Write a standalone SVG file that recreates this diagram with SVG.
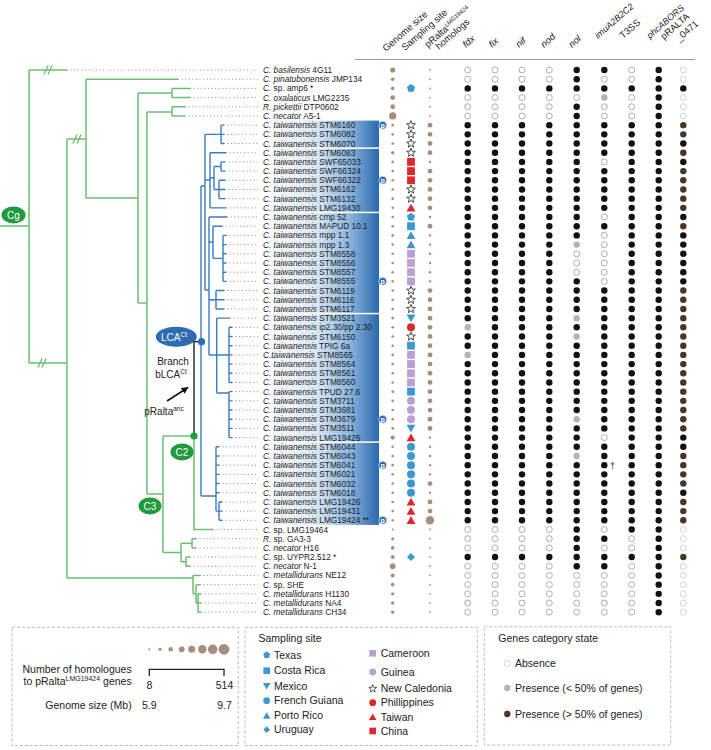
<svg xmlns="http://www.w3.org/2000/svg" xmlns:xlink="http://www.w3.org/1999/xlink" width="711" height="750" viewBox="0 0 711 750">
<style>
text{font-family:"Liberation Sans",Arial,sans-serif;fill:#222}
.tx{font-size:8.3px}
.it{font-style:italic}
.hd{font-size:9.5px}
.lg{font-size:10.5px}
.gs{fill:#a58e7e}
.o{fill:#fff;stroke:#9a9a9a;stroke-width:.8}
.ol{fill:#fff;stroke:#c6c6c6;stroke-width:.8}
.g{fill:#b4b4b4}
.b{fill:#111}
.n{fill:#4a3424}
.gr{fill:none;stroke:#6cc070;stroke-width:1.5}
.bl{fill:none;stroke:#3a7cc0;stroke-width:1.4}
.dl{stroke:#7a7a7a;stroke-width:.9;stroke-dasharray:1 2.6}
.box{fill:none;stroke:#bdbdbd;stroke-width:1;stroke-dasharray:3 2}
.sB{fill:#3d98d0}.sP{fill:#b9a0d4}.sR{fill:#df2628}
.st{fill:#fff;stroke:#222;stroke-width:.8}
</style>
<defs>
<linearGradient id="bg" x1="0" x2="1" y1="0" y2="0">
<stop offset="0" stop-color="#ffffff"/><stop offset="0.45" stop-color="#dce8f5"/><stop offset="0.75" stop-color="#8ab4de"/><stop offset="1" stop-color="#2a68ad"/>
</linearGradient>
<marker id="ar" viewBox="0 0 10 10" refX="9" refY="5" markerWidth="7" markerHeight="7" orient="auto" markerUnits="userSpaceOnUse"><path d="M0,0 L10,5 L0,10 z" fill="#111"/></marker>
<polygon id="pent" class="sB" points="0,-4.3 4.09,-1.33 2.53,3.48 -2.53,3.48 -4.09,-1.33"/>
<rect id="sqB" class="sB" x="-3.9" y="-3.9" width="7.8" height="7.8"/>
<rect id="sqP" class="sP" x="-3.9" y="-3.9" width="7.8" height="7.8"/>
<rect id="sqR" class="sR" x="-3.9" y="-3.9" width="7.8" height="7.8"/>
<polygon id="triB" class="sB" points="0,-4.2 4.4,3.6 -4.4,3.6"/>
<polygon id="triR" class="sR" points="0,-4.2 4.4,3.6 -4.4,3.6"/>
<polygon id="itri" class="sB" points="-4.4,-3.6 4.4,-3.6 0,4.2"/>
<circle id="cirB" class="sB" r="4"/>
<circle id="cirP" class="sP" r="4"/>
<circle id="cirR" class="sR" r="4"/>
<polygon id="dia" class="sB" points="0,-4 4,0 0,4 -4,0"/>
<polygon id="star" class="st" points="0,-4.6 1.12,-1.54 4.37,-1.42 1.81,0.59 2.7,3.72 0,1.9 -2.7,3.72 -1.81,0.59 -4.37,-1.42 -1.12,-1.54"/>
<g id="pp"><circle r="4" fill="#2a6db3" stroke="#fff" stroke-width=".6"/><text x="0" y="2.4" text-anchor="middle" style="font-size:7px;fill:#fff;font-weight:bold">p</text></g>
<g id="P1"><circle class="o" cx="467.7" r="3"/><circle class="o" cx="495" r="3"/><circle class="o" cx="522" r="3"/><circle class="o" cx="549.3" r="3"/><circle class="b" cx="576.7" r="3.2"/><circle class="b" cx="604.3" r="3.2"/><circle class="o" cx="631.7" r="3"/><circle class="b" cx="658.7" r="3.2"/><circle class="ol" cx="683.3" r="3"/></g>
<g id="P2"><circle class="o" cx="467.7" r="3"/><circle class="o" cx="495" r="3"/><circle class="o" cx="522" r="3"/><circle class="o" cx="549.3" r="3"/><circle class="b" cx="576.7" r="3.2"/><circle class="o" cx="604.3" r="3"/><circle class="o" cx="631.7" r="3"/><circle class="b" cx="658.7" r="3.2"/><circle class="ol" cx="683.3" r="3"/></g>
<g id="P3"><circle class="b" cx="467.7" r="3.2"/><circle class="b" cx="495" r="3.2"/><circle class="b" cx="522" r="3.2"/><circle class="b" cx="549.3" r="3.2"/><circle class="b" cx="576.7" r="3.2"/><circle class="b" cx="604.3" r="3.2"/><circle class="b" cx="631.7" r="3.2"/><circle class="b" cx="658.7" r="3.2"/><circle class="b" cx="683.3" r="3.2"/></g>
<g id="P4"><circle class="o" cx="467.7" r="3"/><circle class="o" cx="495" r="3"/><circle class="o" cx="522" r="3"/><circle class="o" cx="549.3" r="3"/><circle class="o" cx="576.7" r="3"/><circle class="g" cx="604.3" r="3.2"/><circle class="o" cx="631.7" r="3"/><circle class="b" cx="658.7" r="3.2"/><circle class="ol" cx="683.3" r="3"/></g>
<g id="P5"><circle class="b" cx="467.7" r="3.2"/><circle class="b" cx="495" r="3.2"/><circle class="b" cx="522" r="3.2"/><circle class="b" cx="549.3" r="3.2"/><circle class="b" cx="576.7" r="3.2"/><circle class="b" cx="604.3" r="3.2"/><circle class="b" cx="631.7" r="3.2"/><circle class="b" cx="658.7" r="3.2"/><circle class="n" cx="683.3" r="3.2"/></g>
<g id="P6"><circle class="b" cx="467.7" r="3.2"/><circle class="b" cx="495" r="3.2"/><circle class="b" cx="522" r="3.2"/><circle class="b" cx="549.3" r="3.2"/><circle class="b" cx="576.7" r="3.2"/><circle class="o" cx="604.3" r="3"/><circle class="b" cx="631.7" r="3.2"/><circle class="b" cx="658.7" r="3.2"/><circle class="b" cx="683.3" r="3.2"/></g>
<g id="P7"><circle class="b" cx="467.7" r="3.2"/><circle class="b" cx="495" r="3.2"/><circle class="b" cx="522" r="3.2"/><circle class="b" cx="549.3" r="3.2"/><circle class="g" cx="576.7" r="3.2"/><circle class="o" cx="604.3" r="3"/><circle class="b" cx="631.7" r="3.2"/><circle class="b" cx="658.7" r="3.2"/><circle class="b" cx="683.3" r="3.2"/></g>
<g id="P8"><circle class="b" cx="467.7" r="3.2"/><circle class="b" cx="495" r="3.2"/><circle class="b" cx="522" r="3.2"/><circle class="b" cx="549.3" r="3.2"/><circle class="o" cx="576.7" r="3"/><circle class="o" cx="604.3" r="3"/><circle class="b" cx="631.7" r="3.2"/><circle class="b" cx="658.7" r="3.2"/><circle class="b" cx="683.3" r="3.2"/></g>
<g id="P9"><circle class="b" cx="467.7" r="3.2"/><circle class="b" cx="495" r="3.2"/><circle class="b" cx="522" r="3.2"/><circle class="b" cx="549.3" r="3.2"/><circle class="g" cx="576.7" r="3.2"/><circle class="b" cx="604.3" r="3.2"/><circle class="b" cx="631.7" r="3.2"/><circle class="b" cx="658.7" r="3.2"/><circle class="n" cx="683.3" r="3.2"/></g>
<g id="P10"><circle class="g" cx="467.7" r="3.2"/><circle class="b" cx="495" r="3.2"/><circle class="b" cx="522" r="3.2"/><circle class="b" cx="549.3" r="3.2"/><circle class="b" cx="576.7" r="3.2"/><circle class="b" cx="604.3" r="3.2"/><circle class="b" cx="631.7" r="3.2"/><circle class="b" cx="658.7" r="3.2"/><circle class="n" cx="683.3" r="3.2"/></g>
<g id="P11"><circle class="o" cx="467.7" r="3"/><circle class="o" cx="495" r="3"/><circle class="o" cx="522" r="3"/><circle class="o" cx="549.3" r="3"/><circle class="b" cx="576.7" r="3.2"/><circle class="o" cx="604.3" r="3"/><circle class="b" cx="631.7" r="3.2"/><circle class="b" cx="658.7" r="3.2"/><circle class="ol" cx="683.3" r="3"/></g>
<g id="P12"><circle class="o" cx="467.7" r="3"/><circle class="o" cx="495" r="3"/><circle class="o" cx="522" r="3"/><circle class="o" cx="549.3" r="3"/><circle class="o" cx="576.7" r="3"/><circle class="o" cx="604.3" r="3"/><circle class="o" cx="631.7" r="3"/><circle class="b" cx="658.7" r="3.2"/><circle class="ol" cx="683.3" r="3"/></g>
</defs>
<rect width="711" height="750" fill="#fff"/>

<!-- shaded clade boxes -->
<g id="clade-boxes">
<rect x="262" y="120.6" width="117" height="26.8" fill="url(#bg)"/>
<rect x="262" y="148.9" width="117" height="62.8" fill="url(#bg)"/>
<rect x="262" y="213.2" width="117" height="99.6" fill="url(#bg)"/>
<rect x="262" y="314.3" width="117" height="127.1" fill="url(#bg)"/>
<rect x="262" y="442.9" width="117" height="82" fill="url(#bg)"/>
<use href="#pp" x="382.7" y="125.14"/><use href="#pp" x="382.7" y="180.28"/><use href="#pp" x="382.7" y="281.37"/><use href="#pp" x="382.7" y="419.22"/><use href="#pp" x="382.7" y="465.17"/><use href="#pp" x="382.7" y="520.31"/>
</g>

<!-- header -->
<g id="header">
<line x1="355" y1="59.5" x2="695" y2="59.5" stroke="#9a9a9a" stroke-width="1"/>
<text class="hd" transform="translate(386,52) rotate(-41)">Genome size</text>
<text class="hd" transform="translate(405,51) rotate(-41)">Sampling site</text>
<text class="hd" transform="translate(428,48) rotate(-41)">pRalta<tspan dy="-3.5" style="font-size:6px">LMG19424</tspan></text>
<text class="hd" transform="translate(439,50) rotate(-41)">homologs</text>
<text class="hd it" transform="translate(466,48) rotate(-41)">fdx</text>
<text class="hd it" transform="translate(492,48) rotate(-41)">fix</text>
<text class="hd it" transform="translate(519,48) rotate(-41)">nif</text>
<text class="hd it" transform="translate(544,48) rotate(-41)">nod</text>
<text class="hd it" transform="translate(572,48) rotate(-41)">nol</text>
<text class="hd it" transform="translate(598,39) rotate(-41)" style="font-size:9px">imuA2B2C2</text>
<text class="hd" transform="translate(623,39) rotate(-41)">T3SS</text>
<text class="hd it" transform="translate(650,39) rotate(-41)" style="font-size:9px">phcABORS</text>
<text class="hd" transform="translate(664,40) rotate(-41)">pRALTA</text>
<text class="hd" transform="translate(679,42) rotate(-41)">_0471</text>
</g>

<!-- connectors: tree -->
<g id="connectors">
<g class="dl">
<line x1="67" y1="70" x2="258" y2="70"/><line x1="178" y1="79.19" x2="258" y2="79.19"/><line x1="190" y1="88.38" x2="258" y2="88.38"/><line x1="190" y1="97.57" x2="258" y2="97.57"/><line x1="185" y1="106.76" x2="258" y2="106.76"/><line x1="185" y1="115.95" x2="258" y2="115.95"/>
<line x1="224" y1="125.14" x2="258" y2="125.14"/><line x1="224" y1="134.33" x2="258" y2="134.33"/><line x1="224" y1="143.52" x2="258" y2="143.52"/><line x1="226" y1="152.71" x2="258" y2="152.71"/><line x1="225" y1="161.9" x2="258" y2="161.9"/><line x1="225" y1="171.09" x2="258" y2="171.09"/><line x1="225" y1="180.28" x2="258" y2="180.28"/><line x1="225" y1="189.47" x2="258" y2="189.47"/><line x1="225" y1="198.66" x2="258" y2="198.66"/><line x1="226" y1="207.85" x2="258" y2="207.85"/>
<line x1="227" y1="217.04" x2="258" y2="217.04"/><line x1="222" y1="226.23" x2="258" y2="226.23"/><line x1="226" y1="235.42" x2="258" y2="235.42"/><line x1="226" y1="244.61" x2="258" y2="244.61"/><line x1="226" y1="253.8" x2="258" y2="253.8"/><line x1="226" y1="262.99" x2="258" y2="262.99"/><line x1="226" y1="272.18" x2="258" y2="272.18"/><line x1="226" y1="281.37" x2="258" y2="281.37"/><line x1="224" y1="290.56" x2="258" y2="290.56"/><line x1="224" y1="299.75" x2="258" y2="299.75"/><line x1="224" y1="308.94" x2="258" y2="308.94"/>
<line x1="230" y1="318.13" x2="258" y2="318.13"/><line x1="232" y1="327.32" x2="258" y2="327.32"/><line x1="232" y1="336.51" x2="258" y2="336.51"/><line x1="232" y1="345.7" x2="258" y2="345.7"/><line x1="232" y1="354.89" x2="258" y2="354.89"/><line x1="232" y1="364.08" x2="258" y2="364.08"/><line x1="232" y1="373.27" x2="258" y2="373.27"/><line x1="232" y1="382.46" x2="258" y2="382.46"/><line x1="232" y1="391.65" x2="258" y2="391.65"/><line x1="232" y1="400.84" x2="258" y2="400.84"/><line x1="232" y1="410.03" x2="258" y2="410.03"/><line x1="232" y1="419.22" x2="258" y2="419.22"/><line x1="232" y1="428.41" x2="258" y2="428.41"/><line x1="232" y1="437.6" x2="258" y2="437.6"/>
<line x1="219" y1="446.79" x2="258" y2="446.79"/><line x1="219" y1="455.98" x2="258" y2="455.98"/><line x1="219" y1="465.17" x2="258" y2="465.17"/><line x1="219" y1="474.36" x2="258" y2="474.36"/><line x1="219" y1="483.55" x2="258" y2="483.55"/><line x1="219" y1="492.74" x2="258" y2="492.74"/><line x1="222" y1="501.93" x2="258" y2="501.93"/><line x1="222" y1="511.12" x2="258" y2="511.12"/><line x1="222" y1="520.31" x2="258" y2="520.31"/>
<line x1="213" y1="529.5" x2="258" y2="529.5"/><line x1="196" y1="538.69" x2="258" y2="538.69"/><line x1="196" y1="547.88" x2="258" y2="547.88"/><line x1="190" y1="557.07" x2="258" y2="557.07"/><line x1="190" y1="566.26" x2="258" y2="566.26"/><line x1="200" y1="575.45" x2="258" y2="575.45"/><line x1="200" y1="584.64" x2="258" y2="584.64"/><line x1="201" y1="593.83" x2="258" y2="593.83"/><line x1="201" y1="603.02" x2="258" y2="603.02"/><line x1="201" y1="612.21" x2="258" y2="612.21"/>
</g>
<path class="gr" d="M0,226H29 M29,70V363 M29,70H67 M29,363H67 M67,139V578 M67,139H86 M67,578H193 M86,79.19V198 M86,79.19H178 M86,198H138 M138,93V303 M138,93H172 M138,303H147 M172,88.38V97.57 M172,88.38H190 M172,97.57H190 M147,112V494 M147,112H172 M172,106.76V115.95 M172,106.76H185 M172,115.95H185 M147,494H163 M163,436V552.5 M163,436H194 M194,436V529.5H213 M163,552.5H181 M181,543.3V561.7 M181,543.3H192 M192,538.69V547.88 M192,538.69H196 M192,547.88H196 M181,561.7H186 M186,557.07V566.26 M186,557.07H190 M186,566.26H190 M193,575.45V593.8 M193,575.45H200 M193,593.8H196 M196,584.64V603 M196,584.64H200 M196,603H198 M198,593.83V612.21 M198,593.83H201 M198,603.02H201 M198,612.21H201"/>
<g stroke="#6cc070" stroke-width="1.3">
<line x1="44" y1="74.5" x2="48" y2="65.5"/><line x1="48" y1="74.5" x2="52" y2="65.5"/>
<line x1="73" y1="143.5" x2="77" y2="134.5"/><line x1="77" y1="143.5" x2="81" y2="134.5"/>
<line x1="38" y1="367.5" x2="42" y2="358.5"/><line x1="42" y1="367.5" x2="46" y2="358.5"/>
</g>
<path class="bl" d="M201,186V496 M201,186H205 M205,134.33V290 M205,134.33H221 M221,125.14V143.52 M221,125.14H224 M221,134.33H224 M221,143.52H224 M205,180H210 M210,152.71V207.85 M210,152.71H226 M210,207.85H226 M210,178H214 M214,166.5V189.5 M214,166.5H221 M221,161.9V171.09 M221,161.9H225 M221,171.09H225 M214,189.5H219 M219,180.28V198.66 M219,180.28H225 M219,189.47H225 M219,198.66H225 M205,290H209 M209,217.04V355 M209,217.04H227 M209,242H213 M213,226.23V258.4 M213,226.23H222 M213,258.4H223 M223,235.42V281.37 M223,235.42H226 M223,244.61H226 M223,253.8H226 M223,262.99H226 M223,272.18H226 M223,281.37H226 M209,299.75H216 M216,290.56V308.94 M216,290.56H224 M216,299.75H224 M216,308.94H224 M209,355H216.7 M216.7,318.13V393 M216.7,318.13H230 M216.7,355H229 M229,327.32V382.46 M229,327.32H232 M229,336.51H232 M229,345.7H232 M229,354.89H232 M229,364.08H232 M229,373.27H232 M229,382.46H232 M216.7,393H229 M229,391.65V437.6 M229,391.65H232 M229,400.84H232 M229,410.03H232 M229,419.22H232 M229,428.41H232 M229,437.6H232 M201,496H216 M216,446.79V511.12 M216,446.79H219 M216,455.98H219 M216,465.17H219 M216,474.36H219 M216,483.55H219 M216,492.74H219 M216,511.12H219 M219,501.93V520.31 M219,501.93H222 M219,511.12H222 M219,520.31H222"/>
<path d="M194,436V341.7H201" fill="none" stroke="#111" stroke-width="1.3"/>
<line x1="167" y1="401" x2="188" y2="387.5" stroke="#111" stroke-width="1.6" marker-end="url(#ar)"/>
</g>

<!-- tree annotations -->
<g id="lca">
<ellipse cx="176.3" cy="336.7" rx="20.5" ry="10" fill="#2e6db4"/>
<text x="174" y="340.5" text-anchor="middle" style="font-size:10px;fill:#fff">LCA<tspan dy="-4" style="font-size:6.5px;fill:#fff">Ct</tspan></text>
<circle cx="201.5" cy="341.7" r="3.6" fill="#2e6db4"/>
</g>
<g id="branch-label">
<text x="173" y="365" text-anchor="middle" style="font-size:10px">Branch</text>
<text x="171" y="378" text-anchor="middle" style="font-size:10px">bLCA<tspan dy="-4" style="font-size:6.5px">Ct</tspan></text>
<text x="164" y="415" text-anchor="middle" style="font-size:10px">pRalta<tspan dy="-4" style="font-size:6.5px">anc</tspan></text>
</g>
<g id="c2"><circle cx="194" cy="436" r="3.6" fill="#1f9a3c"/><ellipse cx="182" cy="452" rx="11.5" ry="8.5" fill="#1f9a3c"/><text x="182" y="455.5" text-anchor="middle" style="font-size:10px;fill:#fff">C2</text></g>
<g id="c3"><ellipse cx="150" cy="506" rx="11.5" ry="8.5" fill="#1f9a3c"/><text x="150" y="509.5" text-anchor="middle" style="font-size:10px;fill:#fff">C3</text></g>
<g id="cg"><ellipse cx="13.5" cy="215" rx="12" ry="8.5" fill="#1f9a3c"/><text x="13.5" y="218.5" text-anchor="middle" style="font-size:10px;fill:#fff">Cg</text></g>

<!-- taxa rows -->
<g id="r01"><text class="tx" x="263" y="73"><tspan class="it">C. basilensis</tspan> 4G11</text><circle class="gs" cx="392.7" cy="70" r="2.6"/><circle class="gs" cx="430" cy="70" r=".9"/><use href="#P1" y="70"/></g>
<g id="r02"><text class="tx" x="263" y="82.19"><tspan class="it">C. pinatubonensis</tspan> JMP134</text><circle class="gs" cx="392.7" cy="79.19" r="1.8"/><circle class="gs" cx="430" cy="79.19" r=".9"/><use href="#P2" y="79.19"/></g>
<g id="r03"><text class="tx" x="263" y="91.38"><tspan class="it">C.</tspan> sp. amp6 *</text><circle class="gs" cx="392.7" cy="88.38" r="1.8"/><use href="#pent" x="411" y="88.38"/><circle class="gs" cx="430" cy="88.38" r=".9"/><use href="#P3" y="88.38"/></g>
<g id="r04"><text class="tx" x="263" y="100.57"><tspan class="it">C. oxalaticus</tspan> LMG2235</text><circle class="gs" cx="392.7" cy="97.57" r="2.4"/><circle class="gs" cx="430" cy="97.57" r=".9"/><use href="#P4" y="97.57"/></g>
<g id="r05"><text class="tx" x="263" y="109.76"><tspan class="it">R. pickettii</tspan> DTP0602</text><circle class="gs" cx="392.7" cy="106.76" r="2.4"/><circle class="gs" cx="430" cy="106.76" r=".9"/><use href="#P2" y="106.76"/></g>
<g id="r06"><text class="tx" x="263" y="118.95"><tspan class="it">C. necator</tspan> A5-1</text><circle class="gs" cx="392.7" cy="115.95" r="3.6"/><circle class="gs" cx="430" cy="115.95" r=".9"/><use href="#P2" y="115.95"/></g>
<g id="r07"><text class="tx" x="263" y="128.14"><tspan class="it">C. taiwanensis</tspan> STM6160</text><circle class="gs" cx="392.7" cy="125.14" r="1.3"/><use href="#star" x="411" y="125.14"/><circle class="gs" cx="430" cy="125.14" r="2.4"/><use href="#P5" y="125.14"/></g>
<g id="r08"><text class="tx" x="263" y="137.33"><tspan class="it">C. taiwanensis</tspan> STM6082</text><circle class="gs" cx="392.7" cy="134.33" r="1.3"/><use href="#star" x="411" y="134.33"/><circle class="gs" cx="430" cy="134.33" r="2.4"/><use href="#P5" y="134.33"/></g>
<g id="r09"><text class="tx" x="263" y="146.52"><tspan class="it">C. taiwanensis</tspan> STM6070</text><circle class="gs" cx="392.7" cy="143.52" r="1.3"/><use href="#star" x="411" y="143.52"/><circle class="gs" cx="430" cy="143.52" r="2.4"/><use href="#P3" y="143.52"/></g>
<g id="r10"><text class="tx" x="263" y="155.71"><tspan class="it">C. taiwanensis</tspan> STM6083</text><circle class="gs" cx="392.7" cy="152.71" r="1.7"/><use href="#star" x="411" y="152.71"/><circle class="gs" cx="430" cy="152.71" r="2.4"/><use href="#P5" y="152.71"/></g>
<g id="r11"><text class="tx" x="263" y="164.9"><tspan class="it">C. taiwanensis</tspan> SWF65033</text><circle class="gs" cx="392.7" cy="161.9" r="1.3"/><use href="#sqR" x="411" y="161.9"/><circle class="gs" cx="430" cy="161.9" r="1.2"/><use href="#P6" y="161.9"/></g>
<g id="r12"><text class="tx" x="263" y="174.09"><tspan class="it">C. taiwanensis</tspan> SWF66324</text><circle class="gs" cx="392.7" cy="171.09" r="1.3"/><use href="#sqR" x="411" y="171.09"/><circle class="gs" cx="430" cy="171.09" r="2.4"/><use href="#P5" y="171.09"/></g>
<g id="r13"><text class="tx" x="263" y="183.28"><tspan class="it">C. taiwanensis</tspan> SWF66322</text><circle class="gs" cx="392.7" cy="180.28" r="1.3"/><use href="#sqR" x="411" y="180.28"/><circle class="gs" cx="430" cy="180.28" r="2.4"/><use href="#P5" y="180.28"/></g>
<g id="r14"><text class="tx" x="263" y="192.47"><tspan class="it">C. taiwanensis</tspan> STM6162</text><circle class="gs" cx="392.7" cy="189.47" r="1.3"/><use href="#star" x="411" y="189.47"/><circle class="gs" cx="430" cy="189.47" r="2.4"/><use href="#P5" y="189.47"/></g>
<g id="r15"><text class="tx" x="263" y="201.66"><tspan class="it">C. taiwanensis</tspan> STM6132</text><circle class="gs" cx="392.7" cy="198.66" r="1.3"/><use href="#star" x="411" y="198.66"/><circle class="gs" cx="430" cy="198.66" r="2.4"/><use href="#P5" y="198.66"/></g>
<g id="r16"><text class="tx" x="263" y="210.85"><tspan class="it">C. taiwanensis</tspan> LMG19430</text><circle class="gs" cx="392.7" cy="207.85" r="1.3"/><use href="#triR" x="411" y="207.85"/><circle class="gs" cx="430" cy="207.85" r="2.4"/><use href="#P5" y="207.85"/></g>
<g id="r17"><text class="tx" x="263" y="220.04"><tspan class="it">C. taiwanensis</tspan> cmp 52</text><circle class="gs" cx="392.7" cy="217.04" r="1.3"/><use href="#pent" x="411" y="217.04"/><circle class="gs" cx="430" cy="217.04" r="1.2"/><use href="#P6" y="217.04"/></g>
<g id="r18"><text class="tx" x="263" y="229.23"><tspan class="it">C. taiwanensis</tspan> MAPUD 10.1</text><circle class="gs" cx="392.7" cy="226.23" r="1.3"/><use href="#sqB" x="411" y="226.23"/><circle class="gs" cx="430" cy="226.23" r="2.4"/><use href="#P5" y="226.23"/></g>
<g id="r19"><text class="tx" x="263" y="238.42"><tspan class="it">C. taiwanensis</tspan> mpp 1.1</text><circle class="gs" cx="392.7" cy="235.42" r="1.3"/><use href="#triB" x="411" y="235.42"/><circle class="gs" cx="430" cy="235.42" r="1.2"/><use href="#P6" y="235.42"/></g>
<g id="r20"><text class="tx" x="263" y="247.61"><tspan class="it">C. taiwanensis</tspan> mpp 1.3</text><circle class="gs" cx="392.7" cy="244.61" r="1.3"/><use href="#triB" x="411" y="244.61"/><circle class="gs" cx="430" cy="244.61" r="1.2"/><use href="#P7" y="244.61"/></g>
<g id="r21"><text class="tx" x="263" y="256.8"><tspan class="it">C. taiwanensis</tspan> STM8558</text><circle class="gs" cx="392.7" cy="253.8" r="1.3"/><use href="#sqP" x="411" y="253.8"/><circle class="gs" cx="430" cy="253.8" r="1.2"/><use href="#P8" y="253.8"/></g>
<g id="r22"><text class="tx" x="263" y="265.99"><tspan class="it">C. taiwanensis</tspan> STM8556</text><circle class="gs" cx="392.7" cy="262.99" r="1.3"/><use href="#sqP" x="411" y="262.99"/><circle class="gs" cx="430" cy="262.99" r="1.2"/><use href="#P8" y="262.99"/></g>
<g id="r23"><text class="tx" x="263" y="275.18"><tspan class="it">C. taiwanensis</tspan> STM8557</text><circle class="gs" cx="392.7" cy="272.18" r="1.3"/><use href="#sqP" x="411" y="272.18"/><circle class="gs" cx="430" cy="272.18" r="1.2"/><use href="#P8" y="272.18"/></g>
<g id="r24"><text class="tx" x="263" y="284.37"><tspan class="it">C. taiwanensis</tspan> STM8555</text><circle class="gs" cx="392.7" cy="281.37" r="1.3"/><use href="#sqP" x="411" y="281.37"/><circle class="gs" cx="430" cy="281.37" r="1.2"/><use href="#P6" y="281.37"/></g>
<g id="r25"><text class="tx" x="263" y="293.56"><tspan class="it">C. taiwanensis</tspan> STM6119</text><circle class="gs" cx="392.7" cy="290.56" r="1.3"/><use href="#star" x="411" y="290.56"/><circle class="gs" cx="430" cy="290.56" r="2.4"/><use href="#P5" y="290.56"/></g>
<g id="r26"><text class="tx" x="263" y="302.75"><tspan class="it">C. taiwanensis</tspan> STM6116</text><circle class="gs" cx="392.7" cy="299.75" r="1.3"/><use href="#star" x="411" y="299.75"/><circle class="gs" cx="430" cy="299.75" r="2.4"/><use href="#P5" y="299.75"/></g>
<g id="r27"><text class="tx" x="263" y="311.94"><tspan class="it">C. taiwanensis</tspan> STM6117</text><circle class="gs" cx="392.7" cy="308.94" r="1.3"/><use href="#star" x="411" y="308.94"/><circle class="gs" cx="430" cy="308.94" r="2.4"/><use href="#P5" y="308.94"/></g>
<g id="r28"><text class="tx" x="263" y="321.13"><tspan class="it">C. taiwanensis</tspan> STM3521</text><circle class="gs" cx="392.7" cy="318.13" r="1.3"/><use href="#itri" x="411" y="318.13"/><circle class="gs" cx="430" cy="318.13" r="2.4"/><use href="#P9" y="318.13"/></g>
<g id="r29"><text class="tx" x="263" y="330.32"><tspan class="it">C. taiwanensis</tspan> ip2.30/pp 2.30</text><circle class="gs" cx="392.7" cy="327.32" r="1.3"/><use href="#cirR" x="411" y="327.32"/><circle class="gs" cx="430" cy="327.32" r="2.4"/><use href="#P10" y="327.32"/></g>
<g id="r30"><text class="tx" x="263" y="339.51"><tspan class="it">C. taiwanensis</tspan> STM6150</text><circle class="gs" cx="392.7" cy="336.51" r="1.3"/><use href="#star" x="411" y="336.51"/><circle class="gs" cx="430" cy="336.51" r="2.4"/><use href="#P9" y="336.51"/></g>
<g id="r31"><text class="tx" x="263" y="348.7"><tspan class="it">C. taiwanensis</tspan> TPIG 6a</text><circle class="gs" cx="392.7" cy="345.7" r="1.3"/><use href="#sqB" x="411" y="345.7"/><circle class="gs" cx="430" cy="345.7" r="2.4"/><use href="#P5" y="345.7"/></g>
<g id="r32"><text class="tx" x="263" y="357.89"><tspan class="it">C.taiwanensis</tspan> STM8565</text><circle class="gs" cx="392.7" cy="354.89" r="1.3"/><use href="#sqP" x="411" y="354.89"/><circle class="gs" cx="430" cy="354.89" r="2.4"/><use href="#P10" y="354.89"/></g>
<g id="r33"><text class="tx" x="263" y="367.08"><tspan class="it">C. taiwanensis</tspan> STM8564</text><circle class="gs" cx="392.7" cy="364.08" r="1.3"/><use href="#sqP" x="411" y="364.08"/><circle class="gs" cx="430" cy="364.08" r="2.4"/><use href="#P5" y="364.08"/></g>
<g id="r34"><text class="tx" x="263" y="376.27"><tspan class="it">C. taiwanensis</tspan> STM8561</text><circle class="gs" cx="392.7" cy="373.27" r="1.3"/><use href="#sqP" x="411" y="373.27"/><circle class="gs" cx="430" cy="373.27" r="2.4"/><use href="#P5" y="373.27"/></g>
<g id="r35"><text class="tx" x="263" y="385.46"><tspan class="it">C. taiwanensis</tspan> STM8560</text><circle class="gs" cx="392.7" cy="382.46" r="1.3"/><use href="#sqP" x="411" y="382.46"/><circle class="gs" cx="430" cy="382.46" r="2.4"/><use href="#P5" y="382.46"/></g>
<g id="r36"><text class="tx" x="263" y="394.65"><tspan class="it">C. taiwanensis</tspan> TPUD 27.6</text><circle class="gs" cx="392.7" cy="391.65" r="1.3"/><use href="#sqB" x="411" y="391.65"/><circle class="gs" cx="430" cy="391.65" r="2.4"/><use href="#P5" y="391.65"/></g>
<g id="r37"><text class="tx" x="263" y="403.84"><tspan class="it">C. taiwanensis</tspan> STM3711</text><circle class="gs" cx="392.7" cy="400.84" r="1.3"/><use href="#cirP" x="411" y="400.84"/><circle class="gs" cx="430" cy="400.84" r="2.4"/><use href="#P5" y="400.84"/></g>
<g id="r38"><text class="tx" x="263" y="413.03"><tspan class="it">C. taiwanensis</tspan> STM3681</text><circle class="gs" cx="392.7" cy="410.03" r="1.3"/><use href="#cirP" x="411" y="410.03"/><circle class="gs" cx="430" cy="410.03" r="2.4"/><use href="#P5" y="410.03"/></g>
<g id="r39"><text class="tx" x="263" y="422.22"><tspan class="it">C. taiwanensis</tspan> STM3679</text><circle class="gs" cx="392.7" cy="419.22" r="1.3"/><use href="#cirP" x="411" y="419.22"/><circle class="gs" cx="430" cy="419.22" r="2.4"/><use href="#P9" y="419.22"/></g>
<g id="r40"><text class="tx" x="263" y="431.41"><tspan class="it">C. taiwanensis</tspan> STM3511</text><circle class="gs" cx="392.7" cy="428.41" r="1.3"/><use href="#itri" x="411" y="428.41"/><circle class="gs" cx="430" cy="428.41" r="2.4"/><use href="#P5" y="428.41"/></g>
<g id="r41"><text class="tx" x="263" y="440.6"><tspan class="it">C. taiwanensis</tspan> LMG19425</text><circle class="gs" cx="392.7" cy="437.6" r="2.1"/><use href="#triR" x="411" y="437.6"/><circle class="gs" cx="430" cy="437.6" r="1.2"/><use href="#P6" y="437.6"/></g>
<g id="r42"><text class="tx" x="263" y="449.79"><tspan class="it">C. taiwanensis</tspan> STM6044</text><circle class="gs" cx="392.7" cy="446.79" r="1.3"/><use href="#cirB" x="411" y="446.79"/><circle class="gs" cx="430" cy="446.79" r="1.2"/><use href="#P3" y="446.79"/></g>
<g id="r43"><text class="tx" x="263" y="458.98"><tspan class="it">C. taiwanensis</tspan> STM6043</text><circle class="gs" cx="392.7" cy="455.98" r="1.3"/><use href="#cirB" x="411" y="455.98"/><circle class="gs" cx="430" cy="455.98" r="1.2"/><use href="#P9" y="455.98"/></g>
<g id="r44"><text class="tx" x="263" y="468.17"><tspan class="it">C. taiwanensis</tspan> STM6041</text><circle class="gs" cx="392.7" cy="465.17" r="1.3"/><use href="#cirB" x="411" y="465.17"/><circle class="gs" cx="430" cy="465.17" r="1.2"/><use href="#P5" y="465.17"/><text x="610" y="468.5" style="font-size:9px;fill:#222">†</text></g>
<g id="r45"><text class="tx" x="263" y="477.36"><tspan class="it">C. taiwanensis</tspan> STM6021</text><circle class="gs" cx="392.7" cy="474.36" r="1.3"/><use href="#cirB" x="411" y="474.36"/><circle class="gs" cx="430" cy="474.36" r="1.2"/><use href="#P5" y="474.36"/></g>
<g id="r46"><text class="tx" x="263" y="486.55"><tspan class="it">C. taiwanensis</tspan> STM6032</text><circle class="gs" cx="392.7" cy="483.55" r="1.3"/><use href="#cirB" x="411" y="483.55"/><circle class="gs" cx="430" cy="483.55" r="2.4"/><use href="#P5" y="483.55"/></g>
<g id="r47"><text class="tx" x="263" y="495.74"><tspan class="it">C. taiwanensis</tspan> STM6018</text><circle class="gs" cx="392.7" cy="492.74" r="1.3"/><use href="#cirB" x="411" y="492.74"/><circle class="gs" cx="430" cy="492.74" r="1.2"/><use href="#P3" y="492.74"/></g>
<g id="r48"><text class="tx" x="263" y="504.93"><tspan class="it">C. taiwanensis</tspan> LMG19426</text><circle class="gs" cx="392.7" cy="501.93" r="1.3"/><use href="#triR" x="411" y="501.93"/><circle class="gs" cx="430" cy="501.93" r="2.4"/><use href="#P5" y="501.93"/></g>
<g id="r49"><text class="tx" x="263" y="514.12"><tspan class="it">C. taiwanensis</tspan> LMG19431</text><circle class="gs" cx="392.7" cy="511.12" r="1.3"/><use href="#triR" x="411" y="511.12"/><circle class="gs" cx="430" cy="511.12" r="2.4"/><use href="#P5" y="511.12"/></g>
<g id="r50"><text class="tx" x="263" y="523.31"><tspan class="it">C. taiwanensis</tspan> LMG19424 **</text><circle class="gs" cx="392.7" cy="520.31" r="1.3"/><use href="#triR" x="411" y="520.31"/><circle class="gs" cx="430" cy="520.31" r="4.2"/><use href="#P5" y="520.31"/></g>
<g id="r51"><text class="tx" x="263" y="532.5"><tspan class="it">C.</tspan> sp. LMG19464</text><circle class="gs" cx="392.7" cy="529.5" r="1"/><circle class="gs" cx="430" cy="529.5" r=".9"/><use href="#P11" y="529.5"/></g>
<g id="r52"><text class="tx" x="263" y="541.69"><tspan class="it">R.</tspan> sp. GA3-3</text><circle class="gs" cx="392.7" cy="538.69" r="1.5"/><circle class="gs" cx="430" cy="538.69" r=".9"/><use href="#P1" y="538.69"/></g>
<g id="r53"><text class="tx" x="263" y="550.88"><tspan class="it">C. necator</tspan> H16</text><circle class="gs" cx="392.7" cy="547.88" r="1.8"/><circle class="gs" cx="430" cy="547.88" r=".9"/><use href="#P2" y="547.88"/></g>
<g id="r54"><text class="tx" x="263" y="560.07"><tspan class="it">C.</tspan> sp. UYPR2.512 *</text><circle class="gs" cx="392.7" cy="557.07" r="2"/><use href="#dia" x="411" y="557.07"/><circle class="gs" cx="430" cy="557.07" r=".9"/><use href="#P5" y="557.07"/></g>
<g id="r55"><text class="tx" x="263" y="569.26"><tspan class="it">C. necator</tspan> N-1</text><circle class="gs" cx="392.7" cy="566.26" r="2.9"/><circle class="gs" cx="430" cy="566.26" r=".9"/><use href="#P1" y="566.26"/></g>
<g id="r56"><text class="tx" x="263" y="578.45"><tspan class="it">C. metallidurans</tspan> NE12</text><circle class="gs" cx="392.7" cy="575.45" r="2"/><circle class="gs" cx="430" cy="575.45" r=".9"/><use href="#P12" y="575.45"/></g>
<g id="r57"><text class="tx" x="263" y="587.64"><tspan class="it">C.</tspan> sp. SHE</text><circle class="gs" cx="392.7" cy="584.64" r="1.8"/><circle class="gs" cx="430" cy="584.64" r=".9"/><use href="#P12" y="584.64"/></g>
<g id="r58"><text class="tx" x="263" y="596.83"><tspan class="it">C. metallidurans</tspan> H1130</text><circle class="gs" cx="392.7" cy="593.83" r="1.7"/><circle class="gs" cx="430" cy="593.83" r=".9"/><use href="#P12" y="593.83"/></g>
<g id="r59"><text class="tx" x="263" y="606.02"><tspan class="it">C. metallidurans</tspan> NA4</text><circle class="gs" cx="392.7" cy="603.02" r="1.7"/><circle class="gs" cx="430" cy="603.02" r=".9"/><use href="#P12" y="603.02"/></g>
<g id="r60"><text class="tx" x="263" y="615.21"><tspan class="it">C. metallidurans</tspan> CH34</text><circle class="gs" cx="392.7" cy="612.21" r="1.7"/><circle class="gs" cx="430" cy="612.21" r=".9"/><use href="#P12" y="612.21"/></g>

<!-- legends -->
<g id="legend-size">
<rect class="box" x="12" y="627.3" width="226.3" height="118.2"/>
<circle class="gs" cx="149.3" cy="649.3" r="1"/><circle class="gs" cx="160" cy="649.3" r="1.6"/><circle class="gs" cx="170.7" cy="649.3" r="2.2"/><circle class="gs" cx="181.7" cy="649.3" r="2.9"/><circle class="gs" cx="191.7" cy="649.3" r="3.5"/><circle class="gs" cx="202.3" cy="649.3" r="4.2"/><circle class="gs" cx="212.7" cy="649.3" r="4.8"/><circle class="gs" cx="224" cy="649.3" r="5.4"/>
<path d="M149.3,676V669.3H224V676" fill="none" stroke="#222" stroke-width="1.3"/>
<text class="lg" x="131.7" y="673" text-anchor="end">Number of homologues</text>
<text class="lg" x="131.7" y="685" text-anchor="end">to pRalta<tspan dy="-4" style="font-size:7px">LMG19424</tspan><tspan dy="4"> genes</tspan></text>
<text class="lg" x="149.3" y="688.5" text-anchor="middle">8</text>
<text class="lg" x="224.5" y="688.5" text-anchor="middle">514</text>
<text class="lg" x="131.7" y="708.5" text-anchor="end">Genome size (Mb)</text>
<text class="lg" x="149.3" y="708.5" text-anchor="middle">5.9</text>
<text class="lg" x="224.5" y="708.5" text-anchor="middle">9.7</text>
</g>
<g id="legend-site">
<rect class="box" x="245" y="627.3" width="232.3" height="118.2"/>
<text class="lg" x="258.5" y="642">Sampling site</text>
<use href="#pent" transform="translate(266.7,655) scale(.85)"/><text class="lg" x="274" y="658.7">Texas</text>
<use href="#sqB" transform="translate(266.7,670.7) scale(.85)"/><text class="lg" x="274" y="674.4">Costa Rica</text>
<use href="#itri" transform="translate(266.7,686) scale(.85)"/><text class="lg" x="274" y="689.7">Mexico</text>
<use href="#cirB" transform="translate(266.7,700.7) scale(.85)"/><text class="lg" x="274" y="704.4">French Guiana</text>
<use href="#triB" transform="translate(266.7,715.7) scale(.85)"/><text class="lg" x="274" y="719.4">Porto Rico</text>
<use href="#dia" transform="translate(266.7,729.7) scale(.85)"/><text class="lg" x="274" y="733.4">Uruguay</text>
<use href="#sqP" transform="translate(372.7,653.3) scale(.85)"/><text class="lg" x="380.7" y="657">Cameroon</text>
<use href="#cirP" transform="translate(372.7,672) scale(.85)"/><text class="lg" x="380.7" y="675.7">Guinea</text>
<use href="#star" transform="translate(372.7,688.7) scale(.9)"/><text class="lg" x="380.7" y="692.4">New Caledonia</text>
<use href="#cirR" transform="translate(372.7,702.7) scale(.85)"/><text class="lg" x="380.7" y="706.4">Phillippines</text>
<use href="#triR" transform="translate(372.7,717) scale(.85)"/><text class="lg" x="380.7" y="720.7">Taiwan</text>
<use href="#sqR" transform="translate(372.7,731) scale(.85)"/><text class="lg" x="380.7" y="734.7">China</text>
</g>
<g id="legend-genes">
<rect class="box" x="484.3" y="626.8" width="186.4" height="118.2"/>
<text class="lg" x="498.3" y="641.5">Genes category state</text>
<circle class="ol" cx="507.3" cy="663.3" r="3"/><text class="lg" x="515" y="667">Absence</text>
<circle class="g" cx="507.3" cy="688" r="3.2"/><text class="lg" x="515" y="691.7">Presence (&lt; 50% of genes)</text>
<circle class="n" cx="507.3" cy="714" r="3.2"/><text class="lg" x="515" y="717.7">Presence (&gt; 50% of genes)</text>
</g>
</svg>
